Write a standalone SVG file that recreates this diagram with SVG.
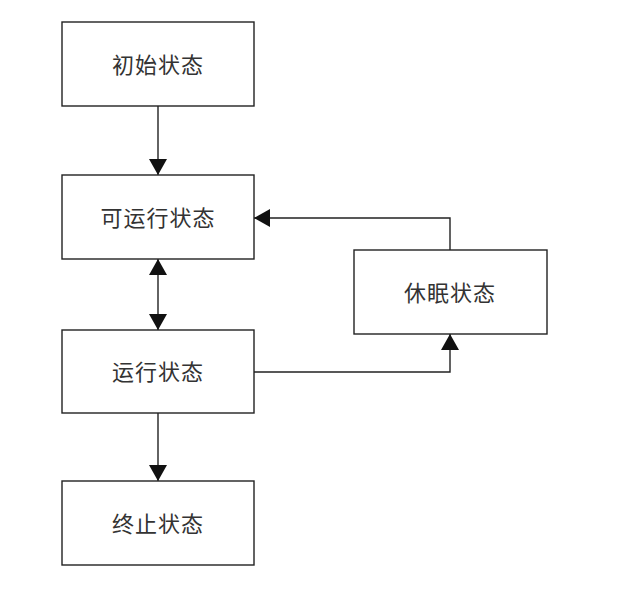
<svg xmlns="http://www.w3.org/2000/svg" width="642" height="590" viewBox="0 0 642 590">
<style>
.box{fill:#fff;stroke:#222;stroke-width:1.4}
.lbl{font-family:"Noto Sans CJK SC","Noto Sans",sans-serif;font-size:22px;fill:#333;text-anchor:middle;dominant-baseline:central;letter-spacing:1px}
.edge{fill:none;stroke:#222;stroke-width:1.4}
</style>
<defs>
<marker id="ah" viewBox="0 0 16 18" refX="16" refY="9" markerWidth="16" markerHeight="18" markerUnits="userSpaceOnUse" orient="auto-start-reverse">
<path d="M0,0 L16,9 L0,18 Z" fill="#111"/>
</marker>
</defs>
<rect width="642" height="590" fill="#fff"/>
<g id="edges">
<line class="edge" x1="158" y1="106" x2="158" y2="175" marker-end="url(#ah)"/>
<line class="edge" x1="158" y1="259" x2="158" y2="330" marker-start="url(#ah)" marker-end="url(#ah)"/>
<line class="edge" x1="158" y1="413" x2="158" y2="481" marker-end="url(#ah)"/>
<polyline class="edge" points="450,250 450,218 254,218" marker-end="url(#ah)"/>
<polyline class="edge" points="254,372 450,372 450,334" marker-end="url(#ah)"/>
</g>
<g id="n1"><rect class="box" x="62" y="22" width="192" height="84"/><text class="lbl" x="158" y="63">初始状态</text></g>
<g id="n2"><rect class="box" x="62" y="175" width="192" height="84"/><text class="lbl" x="158" y="216">可运行状态</text></g>
<g id="n3"><rect class="box" x="62" y="330" width="192" height="83"/><text class="lbl" x="158" y="370">运行状态</text></g>
<g id="n4"><rect class="box" x="62" y="481" width="192" height="84"/><text class="lbl" x="158" y="522">终止状态</text></g>
<g id="n5"><rect class="box" x="354" y="250" width="193" height="84"/><text class="lbl" x="450" y="291">休眠状态</text></g>
</svg>
